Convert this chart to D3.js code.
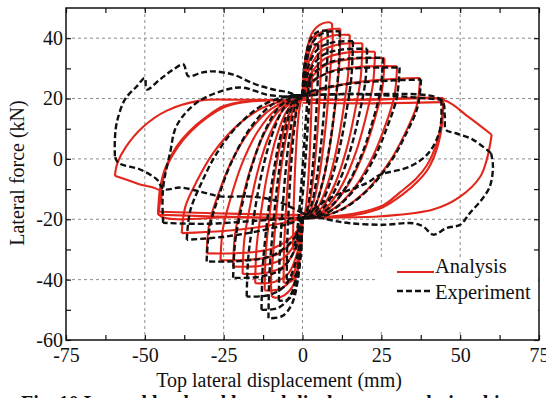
<!DOCTYPE html>
<html>
<head>
<meta charset="utf-8">
<script src="https://cdn.jsdelivr.net/npm/d3@7"></script>
<style>
  body { margin: 0; background: #fff; }
  svg text { font-family: "Liberation Serif", "Times New Roman", serif; fill: #111; }
</style>
</head>
<body>
<div id="app"></div>
<script>
// axis ticks
const xTicks = [-75, -50, -25, 0, 25, 50, 75]
const xMinor = [-62.5, -37.5, -12.5, 12.5, 37.5, 62.5]
const yTicks = [-60, -40, -20, 0, 20, 40]
const yMinor = [-50, -30, -10, 10, 30]
const legendLabels = ["Analysis", "Experiment"]

// analysis (red) branches: [displacement mm, force kN]
const analysisBranches = [
  // cycle ~3 mm
  [[0,19.5],[0.24,24.2],[0.9,28.4],[1.8,29.8],[3,30]],
  [[3,30],[2.91,20.1],[2.61,10.2],[2.22,0.3],[1.65,-9.6],[0.99,-16.5],[0.3,-19.5],[0,-19.5]],
  [[0,-19.5],[-0.24,-24.2],[-0.9,-28.4],[-1.8,-29.8],[-3,-30]],
  [[-3,-30],[-2.91,-20.1],[-2.61,-10.2],[-2.22,-0.3],[-1.65,9.6],[-0.99,16.5],[-0.3,19.5],[0,19.5]],
  // cycle ~6 mm
  [[0,19.5],[0.48,29.2],[1.8,37.8],[3.6,40.6],[6,41]],
  [[6,41],[5.82,28.9],[5.22,16.8],[4.44,4.7],[3.3,-7.4],[1.98,-15.9],[0.6,-19.5],[0,-19.5]],
  [[0,-19.5],[-0.48,-29.2],[-1.8,-37.8],[-3.6,-40.6],[-6,-41]],
  [[-6,-41],[-5.82,-28.9],[-5.22,-16.8],[-4.44,-4.7],[-3.3,7.4],[-1.98,15.9],[-0.6,19.5],[0,19.5]],
  // cycle ~9 mm (peak)
  [[0,19.5],[0.74,31],[2.79,41.2],[5.58,44.5],[8.2,45.3],[9.3,45]],
  [[9.3,45],[9.6,40],[9.02,32.1],[8.09,19.2],[6.88,6.3],[5.12,-6.6],[3.07,-15.6],[0.93,-19.5],[0,-19.5]],
  [[0,-19.5],[-0.78,-31.3],[-2.91,-41.8],[-5.82,-45.2],[-8.5,-46],[-9.7,-45.7]],
  [[-9.7,-45.7],[-10,-40.5],[-9.41,-32.7],[-8.44,-19.6],[-7.18,-6.6],[-5.34,6.5],[-3.2,15.6],[-0.97,19.5],[0,19.5]],
  // cycle ~12 mm
  [[0,19.5],[0.96,30.1],[3.6,39.6],[7.2,42.6],[12,43.1]],
  [[12,43.1],[11.64,30.6],[10.44,18.1],[8.88,5.5],[6.6,-7],[3.96,-15.7],[1.2,-19.5],[0,-19.5]],
  [[0,-19.5],[-0.96,-30.3],[-3.6,-40],[-7.2,-43.1],[-12,-43.6]],
  [[-12,-43.6],[-11.64,-31],[-10.44,-18.4],[-8.88,-5.7],[-6.6,6.9],[-3.96,15.7],[-1.2,19.5],[0,19.5]],
  // cycle ~15 mm
  [[0,19.5],[1.2,29.2],[4.5,37.9],[9,40.7],[15,41.1]],
  [[15,41.1],[14.55,29],[13.05,16.9],[11.1,4.7],[8.25,-7.4],[4.95,-15.9],[1.5,-19.5],[0,-19.5]],
  [[0,-19.5],[-1.2,-29.3],[-4.5,-38],[-9,-40.8],[-15,-41.2]],
  [[-15,-41.2],[-14.55,-29.1],[-13.05,-16.9],[-11.1,-4.8],[-8.25,7.4],[-4.95,15.9],[-1.5,19.5],[0,19.5]],
  // cycle ~19 mm
  [[0,19.5],[1.52,28],[5.7,35.5],[11.4,37.9],[19,38.3]],
  [[19,38.3],[18.43,26.7],[16.53,15.2],[14.06,3.6],[10.45,-7.9],[6.27,-16],[1.9,-19.5],[0,-19.5]],
  [[0,-19.5],[-1.52,-27.9],[-5.7,-35.3],[-11.4,-37.7],[-19,-38.1]],
  [[-19,-38.1],[-18.43,-26.6],[-16.53,-15.1],[-14.06,-3.5],[-10.45,8],[-6.27,16],[-1.9,19.5],[0,19.5]],
  // cycle ~23 mm
  [[0,19.5],[1.84,26.7],[6.9,33.1],[13.8,35.2],[23,35.5]],
  [[23,35.5],[22.31,24.5],[20.01,13.5],[17.02,2.5],[12.65,-8.5],[7.59,-16.2],[2.3,-19.5],[0,-19.5]],
  [[0,-19.5],[-1.76,-26.8],[-6.6,-33.3],[-13.2,-35.4],[-22,-35.7]],
  [[-22,-35.7],[-21.34,-24.7],[-19.14,-13.6],[-16.28,-2.6],[-12.1,8.5],[-7.26,16.2],[-2.2,19.5],[0,19.5]],
  // cycle ~26 mm
  [[0,19.5],[2.08,25.8],[7.8,31.3],[15.6,33.1],[26,33.4]],
  [[26,33.4],[25.22,22.8],[22.62,12.2],[19.24,1.7],[14.3,-8.9],[8.58,-16.3],[2.6,-19.5],[0,-19.5]],
  [[0,-19.5],[-2.08,-25.8],[-7.8,-31.5],[-15.6,-33.3],[-26,-33.6]],
  [[-26,-33.6],[-25.22,-23],[-22.62,-12.4],[-19.24,-1.7],[-14.3,8.9],[-8.58,16.3],[-2.6,19.5],[0,19.5]],
  // cycle ~30 mm
  [[0,19.5],[2.4,24.5],[9,29],[18,30.5],[30,30.7]],
  [[30,30.7],[29.1,20.7],[26.1,10.6],[22.2,0.6],[16.5,-9.5],[9.9,-16.5],[3,-19.5],[0,-19.5]],
  [[0,-19.5],[-2.43,-24.8],[-9.12,-29.5],[-18.24,-31.1],[-30.4,-31.3]],
  [[-30.4,-31.3],[-29.49,-21.1],[-26.45,-11],[-22.5,-0.8],[-16.72,9.3],[-10.03,16.5],[-3.04,19.5],[0,19.5]],
  // cycle ~37 mm
  [[0,19.5],[3,21.5],[12,24.5],[25,26.2],[37.3,26.8]],
  [[37.3,26.8],[36.18,17.5],[32.45,8.3],[27.6,-1],[20.52,-10.2],[12.31,-16.7],[3.73,-19.5],[0,-19.5]],
  [[0,-19.5],[-3,-20.5],[-12,-22.3],[-25,-23.9],[-38.3,-24.6]],
  [[-38.3,-24.6],[-37.15,-15.8],[-33.32,-7],[-28.34,1.9],[-21.07,10.7],[-12.64,16.9],[-3.83,19.5],[0,19.5]],
  // cycle ~45 mm
  [[0,19.5],[15,19.6],[30,19.9],[44.7,20.2]],
  [[44.7,20.2],[44,12],[42.5,5],[39.5,-2],[36,-6.6],[31,-11],[25.5,-15.4],[17,-18],[9.7,-19],[0,-19.5]],
  [[0,-19.5],[-15,-19.4],[-30,-19],[-45.8,-18.5]],
  [[-45.8,-18.5],[-45.2,-10],[-43.5,-3],[-40,4],[-36,9],[-31,13.5],[-25,17.5],[-17,19.2],[-8,19.5],[0,19.5]],
  // repeat ~45 mm
  [[0,18.6],[20,18.4],[44.7,18.8]],
  [[44.7,18.8],[44.2,11],[42.8,4],[40,-3],[36.5,-7.5],[31.5,-12],[25.5,-16],[17,-18.5],[9.7,-19.3],[0,-19.5]],
  [[0,-18.6],[-20,-18.2],[-45.5,-17.5]],
  [[-45.5,-17.5],[-44.8,-10],[-43,-2.5],[-39.5,4],[-35.5,9],[-30.5,13.5],[-24.5,17.3],[-16.5,19],[-8,19.4],[0,19.5]],
  // final cycle ~60 mm
  [[0,19.5],[22,19.6],[44.7,19.5],[52.5,14],[60,8]],
  [[60,8],[58.5,0],[56.3,-6],[50,-12.5],[41.4,-16.8],[25,-19],[9.7,-19.4],[0,-19.5]],
  [[0,-19.5],[-22,-19.3],[-45.5,-18.5],[-44.8,-11],[-52,-8.3],[-59.5,-5.6]],
  [[-59.5,-5.6],[-58.7,-1.4],[-56,4],[-50.6,10.6],[-43,16],[-32.5,19.3],[-20,19.6],[0,19.5]]
]

// experiment (black dashed) branches
const experimentBranches = [
  // small cycles along the initial slope
  [[-2.5,-29],[-1.5,-22],[-0.5,-10],[0.4,3],[1.2,15],[2,24],[2.5,28],[2.2,20],[1.5,8],[0.6,-5],[-0.4,-17],[-1.4,-25],[-2.5,-29]],
  // cycle ~5 mm
  [[0,21],[0.4,28.7],[1.5,35.5],[3,37.7],[5,38]],
  [[5,38],[4.85,26.5],[4.35,15],[3.7,3.5],[2.75,-8],[1.65,-16.1],[0.5,-19.5],[0,-19.5]],
  [[0,-19.5],[-0.4,-28.7],[-1.5,-36.9],[-3,-39.6],[-5,-40]],
  [[-5,-40],[-4.85,-27.8],[-4.35,-15.6],[-3.7,-3.4],[-2.75,8.8],[-1.65,17.3],[-0.5,21],[0,21]],
  // cycle ~8 mm
  [[0,21],[0.64,30.7],[2.4,39.3],[4.8,42.1],[8,42.5]],
  [[8,42.5],[7.76,30.1],[6.96,17.7],[5.92,5.3],[4.4,-7.1],[2.64,-15.8],[0.8,-19.5],[0,-19.5]],
  [[0,-19.5],[-0.6,-31.9],[-2.25,-42.9],[-4.5,-46.5],[-7.5,-47]],
  [[-7.5,-47],[-7.28,-33.4],[-6.53,-19.8],[-5.55,-6.2],[-4.13,7.4],[-2.48,16.9],[-0.75,21],[0,21]],
  // cycle ~11 mm
  [[0,21],[0.94,30.6],[3.54,39.1],[7.08,41.9],[11.8,42.3]],
  [[11.8,42.3],[11.45,30],[10.27,17.6],[8.73,5.2],[6.49,-7.1],[3.89,-15.8],[1.18,-19.5],[0,-19.5]],
  [[0,-19.5],[-0.86,-34.5],[-3.24,-47.8],[-6.48,-52.1],[-10.8,-52.8]],
  [[-10.8,-52.8],[-10.48,-38],[-9.4,-23.3],[-7.99,-8.5],[-5.94,6.2],[-3.56,16.6],[-1.08,21],[0,21]],
  // cycle ~15 mm
  [[0,21],[1.28,29.1],[4.8,36.3],[9.6,38.6],[16,39]],
  [[16,39],[15.52,27.3],[13.92,15.6],[11.84,3.9],[8.8,-7.8],[5.28,-16],[1.6,-19.5],[0,-19.5]],
  [[0,-19.5],[-1.04,-33.2],[-3.9,-45.4],[-7.8,-49.4],[-13,-50]],
  [[-13,-50],[-12.61,-35.8],[-11.31,-21.6],[-9.62,-7.4],[-7.15,6.8],[-4.29,16.7],[-1.3,21],[0,21]],
  // cycle ~20 mm
  [[0,21],[1.64,28],[6.15,34.2],[12.3,36.2],[20.5,36.5]],
  [[20.5,36.5],[19.89,25.3],[17.84,14.1],[15.17,2.9],[11.28,-8.3],[6.77,-16.1],[2.05,-19.5],[0,-19.5]],
  [[0,-19.5],[-1.42,-31.2],[-5.31,-41.7],[-10.62,-45.1],[-17.7,-45.6]],
  [[-17.7,-45.6],[-17.17,-32.3],[-15.4,-19],[-13.1,-5.6],[-9.74,7.7],[-5.84,17],[-1.77,21],[0,21]],
  // cycle ~25 mm
  [[0,21],[2.04,26.6],[7.65,31.6],[15.3,33.3],[25.5,33.5]],
  [[25.5,33.5],[24.74,22.9],[22.19,12.3],[18.87,1.7],[14.03,-8.9],[8.42,-16.3],[2.55,-19.5],[0,-19.5]],
  [[0,-19.5],[-1.76,-28.5],[-6.6,-36.4],[-13.2,-39],[-22,-39.4]],
  [[-22,-39.4],[-21.34,-27.3],[-19.14,-15.2],[-16.28,-3.2],[-12.1,8.9],[-7.26,17.4],[-2.2,21],[0,21]],
  // cycle ~30 mm
  [[0,21],[2.46,25.2],[9.24,28.9],[18.48,30.1],[30.8,30.3]],
  [[30.8,30.3],[29.88,20.3],[26.8,10.4],[22.79,0.4],[16.94,-9.5],[10.16,-16.5],[3.08,-19.5],[0,-19.5]],
  [[0,-19.5],[-2.43,-26],[-9.12,-31.8],[-18.24,-33.7],[-30.4,-34]],
  [[-30.4,-34],[-29.49,-23],[-26.45,-12],[-22.5,-1],[-16.72,10],[-10.03,17.7],[-3.04,21],[0,21]],
  // cycle ~37 mm
  [[0,21],[3,22.5],[12,24.5],[25,25.8],[37.6,26.3]],
  [[37.6,26.3],[36.47,17.1],[32.71,8],[27.82,-1.2],[20.68,-10.3],[12.41,-16.8],[3.76,-19.5],[0,-19.5]],
  [[0,-19.5],[-3,-21],[-12,-23.5],[-25,-25.8],[-36.7,-26.8]],
  [[-36.7,-26.8],[-35.6,-17.2],[-31.93,-7.7],[-27.16,1.9],[-20.19,11.4],[-12.11,18.1],[-3.67,21],[0,21]],
  // cycle ~44 mm
  [[0,21],[15,21.5],[30,20.8],[44,19.6]],
  [[44,19.6],[43.6,9.7],[40,2],[34.1,-2.5],[24.6,-5.3],[20.4,-8],[9.7,-12.5],[3,-17],[0,-19.5]],
  [[0,-19.5],[-15,-20.5],[-30,-21.5],[-44.2,-21.2]],
  [[-44.2,-21.2],[-44.4,-14],[-44,-8],[-42,2],[-39.9,11],[-33.6,18.6],[-24,23],[-18.8,23.6],[-11.4,21.3],[-4,20.5],[0,20]],
  // final cycle ~60 mm
  [[0,21],[20,21.5],[44,19.6],[45.1,14.6],[45.5,9.6],[48.3,8.6],[54,6.4],[59.8,1.9]],
  [[59.8,1.9],[60.4,-2.5],[59.4,-9.2],[56.8,-13.5],[53.1,-17.9],[50,-21.8],[45.7,-22.9],[41.5,-25.1],[38.3,-22.4],[35.1,-21.3],[25.6,-21.8],[15,-21.3],[7.7,-20],[0,-18]],
  [[0,-18],[-8,-14],[-16,-12.5],[-26.2,-12.4],[-32.5,-10.8],[-38.8,-9.5],[-44,-10],[-46.2,-6.8],[-51.5,-3.5],[-58.4,-1.3],[-59.5,0.9]],
  [[-59.5,0.9],[-59.5,6.4],[-58.9,12],[-56.3,19.7],[-52.6,24],[-50,26.8],[-49.4,23],[-45,26.5],[-41,29.6],[-37.8,31.3],[-36.2,27.4],[-32,28.6],[-28.3,29],[-21.9,27.9],[-15.6,25],[-9.3,23],[-4,21.9],[0,20]]
]

const width = 546, height = 398
const plotL = 66, plotR = 539, plotT = 8, plotB = 340

const x = d3.scaleLinear().domain([-75, 75]).range([plotL, plotR])
const y = d3.scaleLinear().domain([-60, 50]).range([plotB, plotT])

const svg = d3.select("#app").append("svg")
  .attr("width", width)
  .attr("height", height)

// grid
const grid = svg.append("g")
  .attr("stroke", "#8c8c8c")
  .attr("stroke-width", 1)
  .attr("stroke-dasharray", "3,3")
grid.append("g").selectAll("line")
  .data(xTicks.slice(1, -1))
  .join("line")
    .attr("x1", d => x(d)).attr("x2", d => x(d))
    .attr("y1", plotT).attr("y2", plotB)
grid.append("g").selectAll("line")
  .data(yTicks.slice(1))
  .join("line")
    .attr("x1", plotL).attr("x2", plotR)
    .attr("y1", d => y(d)).attr("y2", d => y(d))

const line = d3.line()
  .x(d => x(d[0]))
  .y(d => y(d[1]))
  .curve(d3.curveCatmullRom.alpha(0.5))

svg.append("g")
    .attr("fill", "none")
    .attr("stroke", "#e3261b")
    .attr("stroke-width", 2.1)
    .attr("stroke-linejoin", "round")
  .selectAll("path")
  .data(analysisBranches)
  .join("path")
    .attr("d", line)

svg.append("g")
    .attr("fill", "none")
    .attr("stroke", "#111")
    .attr("stroke-width", 2.4)
    .attr("stroke-dasharray", "6,3")
  .selectAll("path")
  .data(experimentBranches)
  .join("path")
    .attr("d", line)

// axes, ticks inward on all sides
const xAll = xTicks.concat(xMinor)
const yAll = yTicks.concat(yMinor)

const fmt = d => Number.isInteger(d) ? String(d) : ""

svg.append("g")
    .attr("transform", `translate(0,${plotB})`)
    .call(d3.axisBottom(x).tickValues(xAll).tickSize(-5).tickSizeOuter(0).tickPadding(8).tickFormat(fmt))
svg.append("g")
    .attr("transform", `translate(0,${plotT})`)
    .call(d3.axisTop(x).tickValues(xAll).tickSize(-5).tickSizeOuter(0).tickFormat(""))
svg.append("g")
    .attr("transform", `translate(${plotL},0)`)
    .call(d3.axisLeft(y).tickValues(yAll).tickSize(-5).tickSizeOuter(0).tickPadding(3).tickFormat(d => yTicks.includes(d) ? String(d) : ""))
svg.append("g")
    .attr("transform", `translate(${plotR},0)`)
    .call(d3.axisRight(y).tickValues(yAll).tickSize(-5).tickSizeOuter(0).tickFormat(""))

svg.selectAll(".tick line").attr("stroke", "#111").attr("stroke-width", 1.2)
svg.selectAll(".domain").remove()
svg.selectAll(".tick text")
  .attr("font-size", 20)
  .attr("font-family", "Liberation Serif, Times New Roman, serif")
  .attr("fill", "#111")

svg.append("rect")
  .attr("x", plotL).attr("y", plotT)
  .attr("width", plotR - plotL).attr("height", plotB - plotT)
  .attr("fill", "none")
  .attr("stroke", "#111")
  .attr("stroke-width", 1.5)

// legend
const lg = svg.append("g")
lg.append("rect")
  .attr("x", 376).attr("y", 258)
  .attr("width", plotR - 376 - 1).attr("height", 72)
  .attr("fill", "#fff")
lg.append("line")
  .attr("x1", 397).attr("x2", 434).attr("y1", 272).attr("y2", 272)
  .attr("stroke", "#e3261b").attr("stroke-width", 2.1)
lg.append("line")
  .attr("x1", 397).attr("x2", 432).attr("y1", 291).attr("y2", 291)
  .attr("stroke", "#111").attr("stroke-width", 2.4).attr("stroke-dasharray", "6,3")
lg.selectAll("text")
  .data(legendLabels)
  .join("text")
    .attr("x", 435)
    .attr("y", (d, i) => i === 0 ? 273 : 299)
    .attr("font-size", 20.5)
    .text(d => d)

// axis titles
svg.append("text")
  .attr("x", 279).attr("y", 387)
  .attr("text-anchor", "middle")
  .attr("font-size", 20)
  .text("Top lateral displacement (mm)")
svg.append("text")
  .attr("transform", "translate(24,173) rotate(-90)")
  .attr("text-anchor", "middle")
  .attr("font-size", 20)
  .text("Lateral force (kN)")

// caption, mostly cut by the bottom edge
svg.append("text")
  .attr("x", 21).attr("y", 410)
  .attr("font-size", 20)
  .attr("font-weight", "bold")
  .text("Fig. 10  Lateral load and lateral displacement relationship")
</script>
</body>
</html>
